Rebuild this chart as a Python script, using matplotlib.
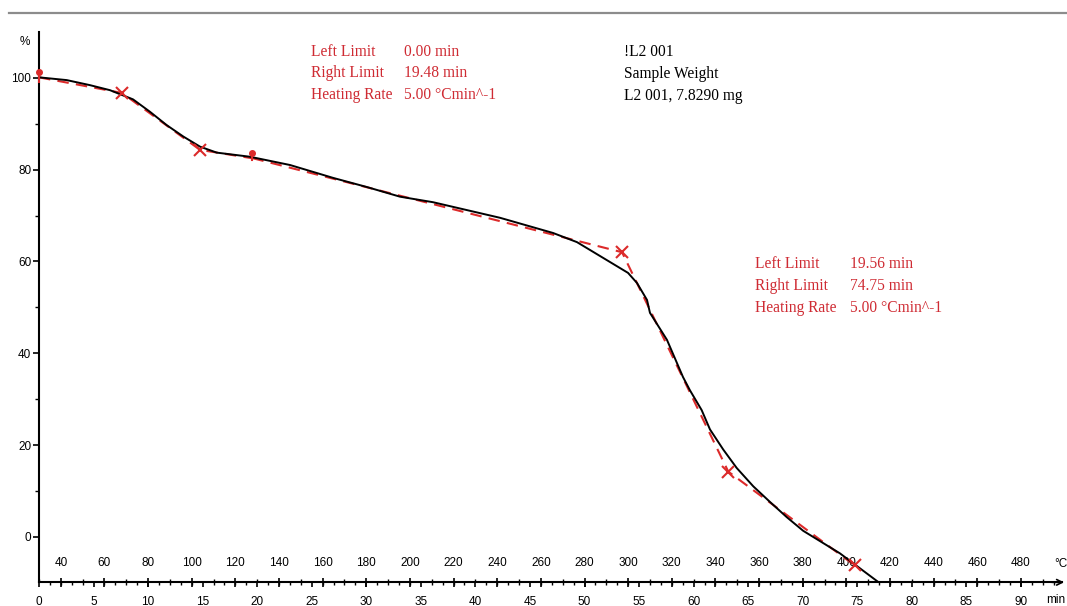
import matplotlib
matplotlib.use("Agg")
import matplotlib.pyplot as plt
from matplotlib.ticker import MultipleLocator, FixedLocator
from matplotlib.lines import Line2D

# ---- data ----
time_min = [0.0, 2.54, 4.67, 6.51, 8.62, 10.17, 11.70, 13.23, 14.76, 16.29,
            19.34, 23.01, 26.95, 30.06, 33.09, 36.11, 42.26, 47.11, 49.31,
            53.99, 54.81, 55.73, 56.00, 57.56, 59.03, 59.67, 60.74, 61.50,
            62.72, 63.95, 65.47, 67.00, 68.53, 70.05, 73.41, 76.90]
mass_pct = [100.1, 99.5, 98.4, 97.3, 95.3, 92.6, 89.7, 87.2, 85.0, 83.7,
            82.8, 81.0, 78.2, 76.2, 74.1, 72.9, 69.5, 66.2, 64.2,
            57.5, 55.3, 51.6, 48.8, 42.9, 34.8, 31.9, 27.6, 23.4,
            19.0, 15.0, 11.0, 7.6, 4.3, 1.3, -3.6, -9.8]

# tangent construction lines (step 1 and step 2)
step1_t = [0.0, 7.61, 14.76, 19.48]
step1_v = [100.1, 96.7, 84.3, 82.5]
step2_t = [19.56, 53.44, 63.18, 74.75]
step2_v = [82.5, 62.0, 14.2, -6.2]
cross_t = [7.61, 14.76, 53.44, 63.18, 74.75]
cross_v = [96.7, 84.3, 62.0, 14.2, -6.2]
limit_t = [0.0, 19.48]
limit_lo = [99.0, 82.1]
limit_hi = [101.2, 83.7]

minute_ticks = list(range(0, 91, 5))
temp_ticks = list(range(40, 481, 20))
y_ticks = [0, 20, 40, 60, 80, 100]

info1_labels = ["Left Limit", "Right Limit", "Heating Rate"]
info1_values = ["0.00 min", "19.48 min", "5.00 \u00b0Cmin^-1"]
info2_labels = ["Left Limit", "Right Limit", "Heating Rate"]
info2_values = ["19.56 min", "74.75 min", "5.00 \u00b0Cmin^-1"]
sample_lines = ["!L2 001", "Sample Weight", "L2 001, 7.8290 mg"]

RED = "#dc2a2a"
TRED = "#cf2b33"
TICKFONT = "Liberation Sans"
TFS = 8.5

W, H = 1067, 606
fig = plt.figure(figsize=(W / 100, H / 100), dpi=100)
x0, x1 = 39, 1062
yb, yt = 582.3, 32.5
ax = fig.add_axes([x0 / W, (H - yb) / H, (x1 - x0) / W, (yb - yt) / H])
ax.set_xlim(0, (x1 - x0) / 10.91)
ax.set_ylim(-9.91, 109.87)

for s in ("top", "right"):
    ax.spines[s].set_visible(False)
for s in ("left", "bottom"):
    ax.spines[s].set_linewidth(1.5)

# curve
ax.plot(time_min, mass_pct, color="black", lw=1.4, zorder=3)

# tangents
ax.plot(step1_t, step1_v, color=RED, lw=1.5, dashes=(5.5, 3.5), zorder=2)
ax.plot(step2_t, step2_v, color=RED, lw=1.5, dashes=(5.5, 3.5), zorder=2)
ax.plot(cross_t, cross_v, linestyle="none", marker="x", ms=9, mew=1.5,
        color=RED, zorder=4)
for t, lo, hi in zip(limit_t, limit_lo, limit_hi):
    ax.plot([t, t], [lo, hi], color=RED, lw=1.5, clip_on=False, zorder=4)
    ax.plot([t], [hi], marker="o", ms=4, color=RED, clip_on=False, zorder=4)

# y axis ticks
ax.set_yticks(y_ticks)
ax.yaxis.set_minor_locator(FixedLocator([10, 30, 50, 70, 90]))
ax.tick_params(axis="y", which="major", length=6 * 0.72, width=1.2,
               labelsize=TFS, pad=1.2)
ax.tick_params(axis="y", which="minor", length=4 * 0.72, width=1.0)

# minute axis (bottom)
ax.set_xticks(minute_ticks)
ax.xaxis.set_minor_locator(MultipleLocator(1))
ax.tick_params(axis="x", which="major", length=5 * 0.72, width=1.2,
               labelsize=TFS, pad=6.0)
ax.tick_params(axis="x", which="minor", length=3 * 0.72, width=1.0)

# temperature axis (on the same line, labels above)
sec = ax.secondary_xaxis(0.0, functions=(lambda t: 30 + 5 * t,
                                          lambda T: (T - 30) / 5))
sec.set_alignment("top")
sec.spines["top"].set_visible(False)
sec.spines["bottom"].set_visible(False)
sec.set_xticks(temp_ticks)
sec.xaxis.set_minor_locator(MultipleLocator(10))
sec.tick_params(axis="x", which="major", direction="inout", length=9 * 0.72,
                width=1.2, labelsize=TFS, pad=6.0)
sec.tick_params(axis="x", which="minor", direction="out", length=3 * 0.72,
                width=1.0)

for lab in ax.get_xticklabels() + ax.get_yticklabels() + sec.get_xticklabels():
    lab.set_fontfamily(TICKFONT)

# arrow at right end of the time axis
ax.annotate("", xy=(1.002, 0), xytext=(0.99, 0), xycoords="axes fraction",
            arrowprops=dict(arrowstyle="->", lw=1.2, color="black",
                            shrinkA=0, shrinkB=0), annotation_clip=False)

# axis unit labels
fig.text(25 / W, 1 - 42 / H, "%", ha="center", va="center", fontsize=TFS,
         family=TICKFONT)
fig.text(1061 / W, 1 - 564 / H, "\u00b0C", ha="center", va="center",
         fontsize=TFS, family=TICKFONT)
fig.text(1056 / W, 1 - 600 / H, "min", ha="center", va="center",
         fontsize=TFS, family=TICKFONT)

# annotations
serif = "Liberation Serif"
fs = 11.2
for i, (lab, val) in enumerate(zip(info1_labels, info1_values)):
    yb_ = 1 - (55.5 + 21.8 * i) / H
    fig.text(311 / W, yb_, lab, color=TRED, fontsize=fs, family=serif, va="baseline")
    fig.text(404 / W, yb_, val, color=TRED, fontsize=fs, family=serif, va="baseline")
for i, line in enumerate(sample_lines):
    yb_ = 1 - (56 + 22 * i) / H
    fig.text(624 / W, yb_, line, color="black", fontsize=fs, family=serif, va="baseline")
for i, (lab, val) in enumerate(zip(info2_labels, info2_values)):
    yb_ = 1 - (268.5 + 21.8 * i) / H
    fig.text(755 / W, yb_, lab, color=TRED, fontsize=fs, family=serif, va="baseline")
    fig.text(850 / W, yb_, val, color=TRED, fontsize=fs, family=serif, va="baseline")

# grey rule at the top of the page
fig.add_artist(Line2D([9 / W, 1], [1 - 12.7 / H] * 2, color="#8c8c8c", lw=1.6))

fig.savefig("out.png", dpi=100)
